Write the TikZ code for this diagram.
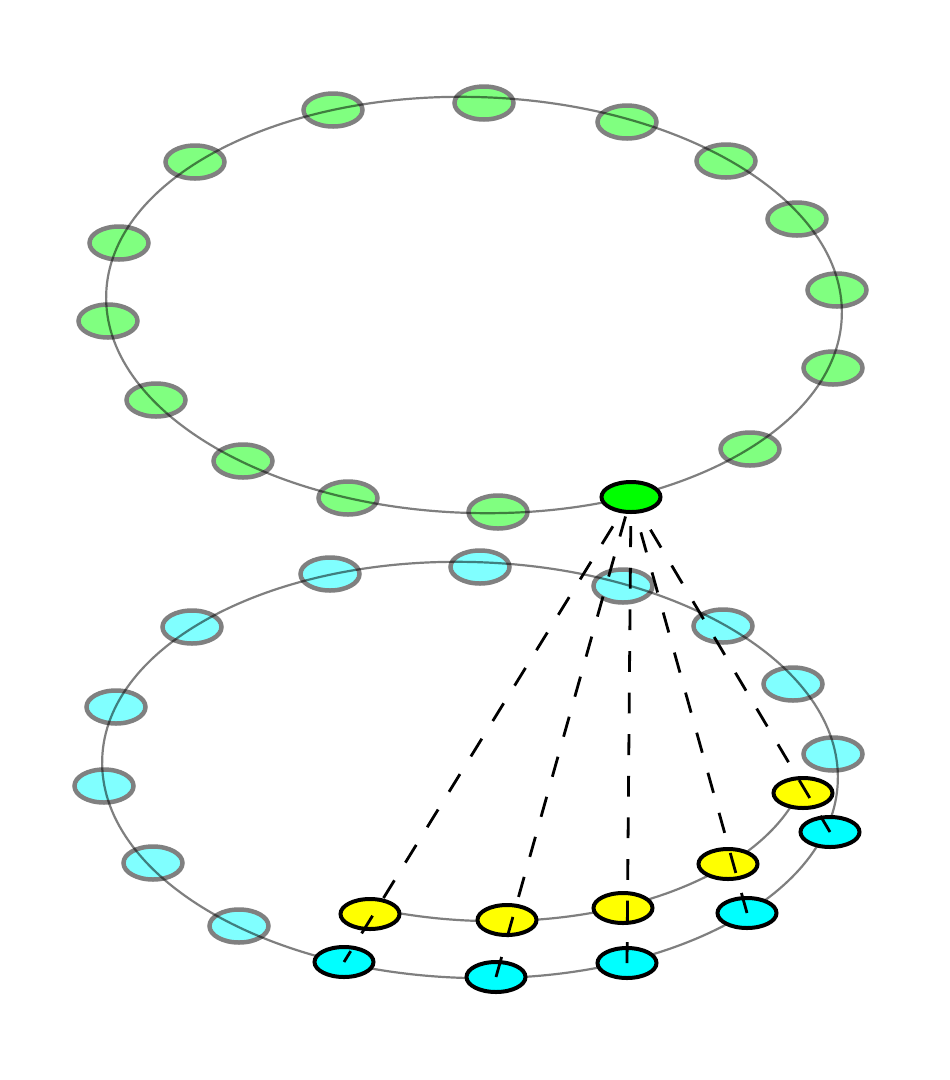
\documentclass[tikz,border=0pt]{standalone}
\usetikzlibrary{shapes.geometric}
\definecolor{grnL}{RGB}{128,255,128}
\definecolor{cynL}{RGB}{128,255,255}
\definecolor{grnB}{RGB}{0,255,0}
\definecolor{cynB}{RGB}{0,255,255}
\definecolor{ylwB}{RGB}{255,255,0}
\definecolor{bord}{RGB}{128,128,128}
\begin{document}
\begin{tikzpicture}[x=1pt,y=-1pt,
  vtx/.style={ellipse, inner sep=0pt, outer sep=0pt, minimum width=59pt, minimum height=33pt},
  lightg/.style={vtx, fill=grnL, draw=bord, line width=4.5pt},
  lightc/.style={vtx, fill=cynL, draw=bord, line width=4.5pt},
  boldv/.style={vtx, draw=black, line width=4pt, minimum height=30pt},
  boldg/.style={boldv, fill=grnB},
  boldc/.style={boldv, fill=cynB},
  boldy/.style={boldv, fill=ylwB},
  ring/.style={draw=black, draw opacity=0.5, line width=2.2pt},
  link/.style={draw=black, line width=2.8pt, dash pattern=on 20.8pt off 20.8pt}
]
\useasboundingbox (0,0) rectangle (950,1080);

% light nodes of the upper ring
\node[lightg] (g1)  at (333,110) {};
\node[lightg] (g2)  at (484,103) {};
\node[lightg] (g3)  at (627,122) {};
\node[lightg] (g4)  at (726,161) {};
\node[lightg] (g5)  at (797,219) {};
\node[lightg] (g6)  at (837,290) {};
\node[lightg] (g7)  at (833,368) {};
\node[lightg] (g8)  at (750,449) {};
\node[lightg] (g9)  at (498,512) {};
\node[lightg] (g10) at (348,498) {};
\node[lightg] (g11) at (243,461) {};
\node[lightg] (g12) at (156,400) {};
\node[lightg] (g13) at (108,321) {};
\node[lightg] (g14) at (119,243) {};
\node[lightg] (g15) at (195,162) {};

% light nodes of the lower ring
\node[lightc] (c1)  at (330,574) {};
\node[lightc] (c2)  at (480,567) {};
\node[lightc] (c3)  at (623,586) {};
\node[lightc] (c4)  at (723,626) {};
\node[lightc] (c5)  at (793,684) {};
\node[lightc] (c6)  at (833,754) {};
\node[lightc] (c7)  at (239,926) {};
\node[lightc] (c8)  at (153,863) {};
\node[lightc] (c9)  at (104,786) {};
\node[lightc] (c10) at (116,707) {};
\node[lightc] (c11) at (192,627) {};

% rings
\draw[ring, rotate around={-1.7:(474,305)}] (474,305) ellipse [x radius=368, y radius=208];
\draw[ring, rotate around={-1.7:(470,770)}] (470,770) ellipse [x radius=368, y radius=208];
\draw[ring, shift={(483,739)}, rotate=-1.7] plot[domain=16:108, samples=60, smooth] ({327*cos(\x)},{182*sin(\x)});

% bold nodes
\node[boldg] (gb) at (631,497) {};
\node[boldc] (cb1) at (344,962) {};
\node[boldc] (cb2) at (496,977) {};
\node[boldc] (cb3) at (627,963) {};
\node[boldc] (cb4) at (747,913) {};
\node[boldc] (cb5) at (830,832) {};
\node[boldy] (y1) at (370,914) {};
\node[boldy] (y2) at (507,920) {};
\node[boldy] (y3) at (623,908) {};
\node[boldy] (y4) at (728,864) {};
\node[boldy] (y5) at (803,793) {};

% dashed links
\draw[link, dash phase=8pt] (cb1.center) -- (gb);
\draw[link] (cb2.center) -- (gb);
\draw[link] (cb3.center) -- (gb);
\draw[link] (cb4.center) -- (gb);
\draw[link, dash phase=2pt] (cb5.center) -- (gb);
\end{tikzpicture}
\end{document}
